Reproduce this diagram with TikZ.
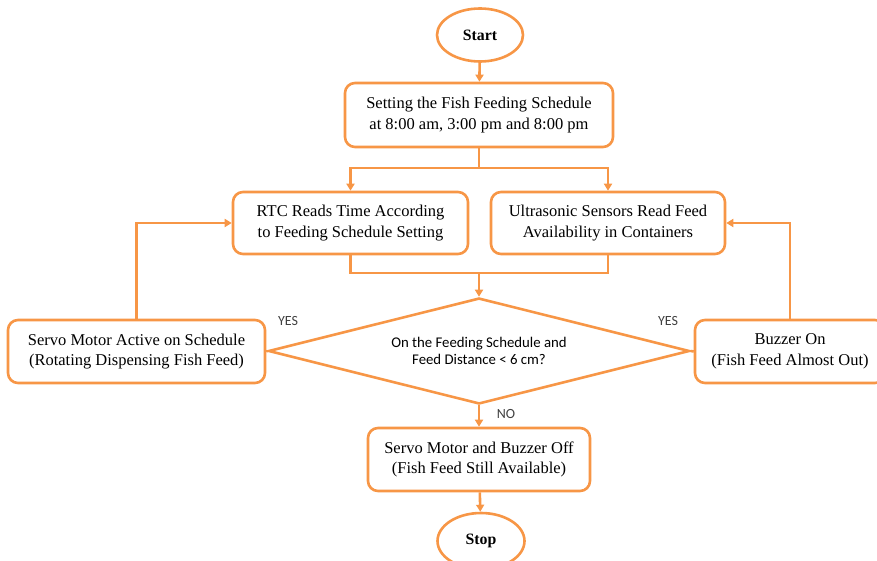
\documentclass[tikz,border=0pt]{standalone}
\usepackage{fontspec}
\setmainfont{Liberation Serif}
\newfontfamily\labelfont{Carlito}
\usetikzlibrary{shapes.geometric,arrows.meta}
\definecolor{feedorange}{RGB}{247,150,70}
\tikzstyle{box}=[draw=feedorange,line width=2.6pt,rounded corners=10pt,fill=white,align=center,font=\fontsize{16.5}{20.5}\selectfont,inner sep=0pt]
\tikzstyle{term}=[draw=feedorange,line width=2.6pt,ellipse,fill=white,font=\fontsize{15.8}{18.5}\selectfont\bfseries,inner sep=0pt]
\tikzstyle{decision}=[draw=feedorange,line width=2.6pt,diamond,aspect=4,fill=white,align=center,font=\labelfont\fontsize{14.8}{17.5}\selectfont,inner sep=0pt]
\tikzstyle{link}=[draw=feedorange,line width=2.6pt]
\tikzstyle{arr}=[link,-{Triangle[length=7pt,width=8pt]}]
\tikzstyle{answer}=[font=\labelfont\fontsize{14}{16}\selectfont,text=black!75]

\begin{document}
\begin{tikzpicture}[x=1pt,y=-1pt]
  \useasboundingbox (0,0) rectangle (877,561);
  \node[term] (start) at (480,35) [minimum width=86pt,minimum height=53pt] {Start};
  \node[box] (setting) at (479,115) [minimum width=268pt,minimum height=64pt] {Setting the Fish Feeding Schedule\\at 8:00 am, 3:00 pm and 8:00 pm};
  \node[box] (rtc) at (350.5,223) [minimum width=235pt,minimum height=62pt] {RTC Reads Time According\\to Feeding Schedule Setting};
  \node[box] (ultra) at (608,223) [minimum width=234pt,minimum height=62pt] {Ultrasonic Sensors Read Feed\\Availability in Containers};
  \node[decision] (check) at (479,351) [minimum width=421pt,minimum height=106pt] {On the Feeding Schedule and\\Feed Distance \textless{} 6 cm?};
  \node[box] (servo) at (136.5,351.5) [minimum width=257pt,minimum height=63pt] {Servo Motor Active on Schedule\\(Rotating Dispensing Fish Feed)};
  \node[box] (buzzer) at (790,351.5) [minimum width=190pt,minimum height=63pt] {Buzzer On\\(Fish Feed Almost Out)};
  \node[box] (off) at (479,459.5) [minimum width=222pt,minimum height=63pt] {Servo Motor and Buzzer Off\\(Fish Feed Still Available)};
  \node[term] (stop) at (481,541) [minimum width=87pt,minimum height=56pt] {Stop};

  \coordinate (fork) at (479,168);
  \coordinate (join) at (479,273);

  % split and merge around the two reading boxes
  \draw[link] (setting.south) -- (fork);
  \draw[arr] (fork) -| (rtc.north);
  \draw[arr] (fork) -| (ultra.north);
  \draw[link] (rtc.south) |- (join) -| (ultra.south);

  \foreach \from/\to in {start/setting, join/check, check/off, off/stop}
  \draw[arr] (\from) -- (\to);

  \draw[link] (check.west) -- (servo.east);
  \draw[link] (check.east) -- (buzzer.west);
  \draw[arr] (servo.north) |- (rtc.west);
  \draw[arr] (buzzer.north) |- (ultra.east);

  \node[answer] (yesl) at (288,321) {YES};
  \node[answer] (yesr) at (668,321) {YES};
  \node[answer] (no) at (506,414) {NO};
\end{tikzpicture}
\end{document}
